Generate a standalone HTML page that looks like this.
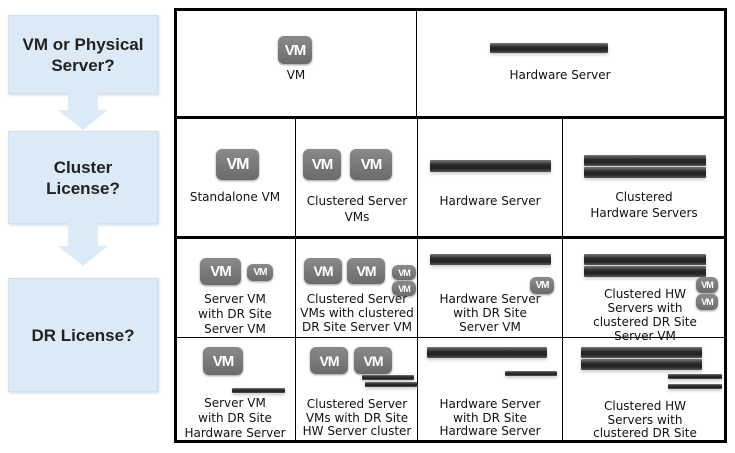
<!DOCTYPE html>
<html><head><meta charset="utf-8"><style>
body{margin:0;width:735px;height:453px;background:#fff;position:relative;overflow:hidden;font-family:"DejaVu Sans","Liberation Sans",sans-serif}
.a{position:absolute}
.box{position:absolute;left:8px;width:148px;background:#dbeaf4;border:1px solid #cfe0ec;box-shadow:1px 1px 3px #c8d6e0;display:flex;align-items:center;justify-content:center;text-align:center;font-family:"Liberation Sans",sans-serif;font-weight:bold;font-size:17px;color:#222;line-height:21px}
.stem{position:absolute;left:68px;width:30px;background:#dcebf5}
.head{position:absolute;left:58px;width:0;height:0;border-left:25px solid transparent;border-right:25px solid transparent;border-top:20px solid #dcebf5}
.vm{position:absolute;background:linear-gradient(#8a8a8a,#6b6b6b);border-radius:6px;color:#fff;font-weight:bold;display:flex;align-items:center;justify-content:center;font-family:"Liberation Sans",sans-serif;letter-spacing:-1px;box-shadow:0 1px 2px #999}
.sv{position:absolute;background:linear-gradient(#777,#2a2a2a 40%,#222 70%,#555);border-radius:1px;box-shadow:0 2px 3px #ccc}
.t{position:absolute;text-align:center;font-size:12px;line-height:16px;color:#111}
.h{position:absolute;background:#000}
</style></head><body>
<div class="box" style="top:15px;height:77px">VM or Physical<br>Server?</div>
<div class="stem" style="top:93px;height:18px"></div><div class="head" style="top:110px"></div>
<div class="box" style="top:131px;height:91px">Cluster<br>License?</div>
<div class="stem" style="top:223px;height:24px"></div><div class="head" style="top:246px"></div>
<div class="box" style="top:278px;height:112px">DR License?</div>

<div class="h" style="left:174px;top:8px;width:553px;height:3px"></div>
<div class="h" style="left:174px;top:440px;width:553px;height:3px"></div>
<div class="h" style="left:174px;top:8px;width:3px;height:435px"></div>
<div class="h" style="left:724px;top:8px;width:3px;height:435px"></div>
<div class="h" style="left:174px;top:116px;width:553px;height:3px"></div>
<div class="h" style="left:174px;top:236px;width:553px;height:3px"></div>
<div class="h" style="left:174px;top:337px;width:553px;height:1px"></div>
<div class="h" style="left:416px;top:8px;width:1px;height:110px"></div>
<div class="h" style="left:295px;top:118px;width:1px;height:323px"></div>
<div class="h" style="left:417px;top:118px;width:1px;height:323px"></div>
<div class="h" style="left:562px;top:118px;width:1px;height:323px"></div>

<div class="vm" style="left:278px;top:36px;width:34px;height:28px;font-size:15px">VM</div>
<div class="t" style="left:256px;top:67px;width:80px">VM</div>
<div class="sv" style="left:490px;top:43px;width:118px;height:10px"></div>
<div class="t" style="left:500px;top:67px;width:120px">Hardware Server</div>

<div class="vm" style="left:216px;top:149px;width:43px;height:31px;font-size:16px">VM</div>
<div class="t" style="left:180px;top:189px;width:110px">Standalone VM</div>
<div class="vm" style="left:303px;top:149px;width:38px;height:31px;font-size:15px">VM</div>
<div class="vm" style="left:350px;top:149px;width:42px;height:31px;font-size:15px">VM</div>
<div class="t" style="left:298px;top:193px;width:118px">Clustered Server<br>VMs</div>
<div class="sv" style="left:430px;top:160px;width:121px;height:12px"></div>
<div class="t" style="left:420px;top:193px;width:140px">Hardware Server</div>
<div class="sv" style="left:584px;top:155px;width:122px;height:11px"></div>
<div class="sv" style="left:584px;top:167px;width:122px;height:11px"></div>
<div class="t" style="left:565px;top:189px;width:158px">Clustered<br>Hardware Servers</div>

<div class="vm" style="left:200px;top:258px;width:41px;height:27px;font-size:15px">VM</div>
<div class="vm" style="left:247px;top:264px;width:26px;height:17px;font-size:10px">VM</div>
<div class="t" style="left:180px;top:292px;width:110px;line-height:15px">Server VM<br>with DR Site<br>Server VM</div>
<div class="vm" style="left:304px;top:258px;width:38px;height:26px;font-size:14px">VM</div>
<div class="vm" style="left:347px;top:258px;width:38px;height:26px;font-size:14px">VM</div>
<div class="vm" style="left:392px;top:265px;width:24px;height:15px;font-size:9px">VM</div>
<div class="vm" style="left:392px;top:281px;width:24px;height:15px;font-size:9px">VM</div>
<div class="t" style="left:296px;top:292px;width:122px;line-height:14px">Clustered Server<br>VMs with clustered<br>DR Site Server VM</div>
<div class="sv" style="left:430px;top:254px;width:121px;height:11px"></div>
<div class="vm" style="left:530px;top:277px;width:24px;height:17px;font-size:10px">VM</div>
<div class="t" style="left:420px;top:292px;width:140px;line-height:14px">Hardware Server<br>with DR Site<br>Server VM</div>
<div class="sv" style="left:584px;top:254px;width:122px;height:11px"></div>
<div class="sv" style="left:584px;top:266px;width:122px;height:11px"></div>
<div class="vm" style="left:696px;top:277px;width:22px;height:16px;font-size:9px">VM</div>
<div class="vm" style="left:696px;top:294px;width:22px;height:16px;font-size:9px">VM</div>
<div class="t" style="left:570px;top:287px;width:150px;line-height:14px">Clustered HW<br>Servers with<br>clustered DR Site<br>Server VM</div>

<div class="vm" style="left:203px;top:347px;width:40px;height:28px;font-size:15px">VM</div>
<div class="sv" style="left:232px;top:388px;width:53px;height:5px"></div>
<div class="t" style="left:178px;top:396px;width:114px;line-height:15px">Server VM<br>with DR Site<br>Hardware Server</div>
<div class="vm" style="left:310px;top:347px;width:38px;height:27px;font-size:14px">VM</div>
<div class="vm" style="left:354px;top:347px;width:38px;height:27px;font-size:14px">VM</div>
<div class="sv" style="left:362px;top:375px;width:52px;height:5px"></div>
<div class="sv" style="left:365px;top:382px;width:52px;height:5px"></div>
<div class="t" style="left:296px;top:398px;width:122px;line-height:13.5px">Clustered Server<br>VMs with DR Site<br>HW Server cluster</div>
<div class="sv" style="left:427px;top:347px;width:120px;height:11px"></div>
<div class="sv" style="left:505px;top:371px;width:52px;height:5px"></div>
<div class="t" style="left:420px;top:398px;width:140px;line-height:13.5px">Hardware Server<br>with DR Site<br>Hardware Server</div>
<div class="sv" style="left:581px;top:347px;width:121px;height:11px"></div>
<div class="sv" style="left:581px;top:359px;width:121px;height:11px"></div>
<div class="sv" style="left:668px;top:374px;width:54px;height:5px"></div>
<div class="sv" style="left:668px;top:384px;width:54px;height:5px"></div>
<div class="t" style="left:570px;top:400px;width:150px;line-height:13.5px">Clustered HW<br>Servers with<br>clustered DR Site</div>
</body></html>
